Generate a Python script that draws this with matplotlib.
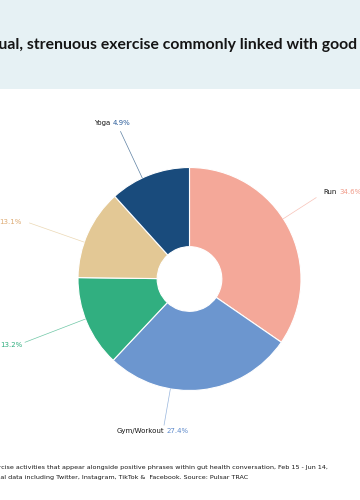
import numpy as np
import matplotlib
matplotlib.use("Agg")
from matplotlib import pyplot as plt
from matplotlib.patches import Rectangle
from matplotlib.offsetbox import TextArea, HPacker, AnnotationBbox

# clockwise from 12 o'clock
activities = ["Run", "Gym/Workout", "Cycle", "Walk", "Yoga"]
slice_share = [34.6, 27.4, 13.2, 13.1, 11.7]  # slice sizes as drawn
label_pct = [34.6, 27.4, 13.2, 13.1, 4.9]     # percentages printed in labels
colors = ["#F4A899", "#6C96CF", "#31AF80", "#E3C895", "#194B7C"]
pct_colors = ["#F09A88", "#5E8ACB", "#2FAE7E", "#DDAA72", "#2A5C9A"]

title = "Casual, strenuous exercise commonly linked with good gut health"
footer = [
    "Exercise activities that appear alongside positive phrases within gut health conversation, Feb 15 - Jun 14,",
    "Social data including Twitter, Instagram, TikTok &  Facebook. Source: Pulsar TRAC",
]

# label layout tweaks (degrees added to mid angle, leader length in radii)
label_turn = [-5, 16, 2, -5, -4]
label_r = [1.35, 1.33, 1.58, 1.52, 1.46]

W, H = 360, 500
CX, CY, R = 189.5, 279, 111.5  # pie centre/radius in px (y from top)

fig = plt.figure(figsize=(W / 100, H / 100), dpi=100)
fig.patches.append(Rectangle((0, 1 - 89 / H), 1, 89 / H, transform=fig.transFigure,
                             facecolor="#E6F1F4", edgecolor="none", zorder=0))

fig.text(-27 / W, 1 - 45 / H, title, ha="left", va="center", fontsize=11.3,
         fontweight="bold", family="Lato", color="#151515")
for i, line in enumerate(footer):
    fig.text(-13 / W, 1 - (468 + 10 * i) / H, line, ha="left", va="center",
             fontsize=4.6, family="DejaVu Sans", color="#151515")

ax = fig.add_axes([0, 0, 1, 1])

wedges, _ = ax.pie(slice_share, colors=colors, startangle=90, counterclock=False,
                   radius=1, wedgeprops=dict(width=0.71, edgecolor="white", linewidth=0.8))
ax.set_aspect("auto")
ax.set_xlim(-CX / R, (W - CX) / R)
ax.set_ylim(-(H - CY) / R, CY / R)
ax.axis("off")

for w, name, pct, col, pcol, turn, lr in zip(wedges, activities, label_pct, colors,
                                             pct_colors, label_turn, label_r):
    mid = np.deg2rad((w.theta1 + w.theta2) / 2 - turn)
    x0, y0 = np.cos(mid), np.sin(mid)
    x1, y1 = lr * x0, lr * y0
    ax.plot([x0, x1], [y0, y1], color=col, lw=0.5, alpha=0.7)

    box = HPacker(children=[
        TextArea(name, textprops=dict(fontsize=5.0, color="#151515", family="DejaVu Sans")),
        TextArea(f"{pct}%", textprops=dict(fontsize=5.0, color=pcol, family="DejaVu Sans")),
    ], pad=0, sep=1.8)
    if x0 > 0.5:
        align, off = (0, 0.5), (5, 4)
    elif x0 < -0.5:
        align, off = (1, 0.5), (-6, 1) if y0 > 0 else (-2, -2)
    elif y0 > 0:
        align, off = (0.5, 0), (-6, 4)
    else:
        align, off = (0.5, 1), (-8, -2)
    ab = AnnotationBbox(box, (x1, y1), xybox=off, boxcoords="offset points",
                        box_alignment=align, frameon=False, pad=0, annotation_clip=False)
    ax.add_artist(ab)

fig.savefig("out.png", dpi=100)
